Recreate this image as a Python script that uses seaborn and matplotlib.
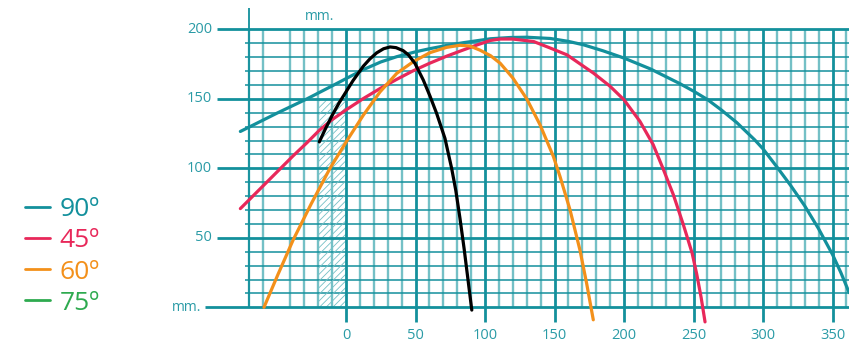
import matplotlib
matplotlib.use('Agg')
import numpy as np
import matplotlib.pyplot as plt
from matplotlib.lines import Line2D
from matplotlib.patches import Rectangle
import seaborn as sns

# ---------------- data ----------------
X_TICKS = [0, 50, 100, 150, 200, 250, 300, 350]
Y_TICKS = [50, 100, 150, 200]

teal_x = [-76, -70, -50, -28, -11.5, 0, 12.5, 25, 36.5, 50, 60, 72, 84, 104, 118, 130,
          147, 160, 171, 185, 200, 219, 240, 250, 260, 270, 281, 294, 300, 310, 320,
          330, 340, 350, 356, 362]
teal_y = [126.5, 129.5, 139.5, 150, 158.5, 164.5, 171, 176.5, 180.3, 183.8, 186, 188.3, 190.3,
          193.2, 194.1, 194.3, 193.4, 191.3, 188.8, 184.5, 179.3, 171.5, 161, 155.5, 149.5,
          142, 133, 120.5, 114, 101, 87.5, 73, 56.5, 38, 25, 10.5]

red_x = [-76, -66, -56, -47, -38, -28, -19, -10, 0, 12.5, 24.5, 36.5, 48, 60, 72, 84, 95,
         104, 111, 120, 135, 147, 159, 170, 178, 190, 200, 211.5, 221, 228, 235.5, 242.7,
         245, 249, 252.3, 255.5, 258.3]
red_y = [71, 81, 91, 100, 109, 118.5, 127.5, 135, 142, 150.2, 157.4, 164, 170, 175.5, 180.5,
         185, 189, 192, 193, 193, 191.2, 186.5, 181.6, 174, 168.5, 159, 149.3, 133.7, 117,
         100, 81, 59.4, 52, 39, 24, 7, -10.5]

orange_x = [-59, -49, -38, -25, -11.5, 1.7, 12.5, 24.5, 36.5, 48.4, 60.4, 72.4, 82, 89,
            96.4, 104, 111, 120, 130, 139.6, 149.2, 154, 161.2, 168.3, 173.1, 177.9]
orange_y = [0, 23.5, 48.5, 74.5, 100, 121.5, 138.3, 155, 168.3, 176.7, 183.2, 187, 188.5, 188,
            185, 181, 175.5, 165, 150, 131.3, 108.5, 94, 70, 41.2, 17.3, -9]

black_x = [-19.2, -15, -10, -5, 0, 5, 12.5, 17, 22, 27, 31.7, 36, 41.2, 45, 49.6, 55.6,
           60.4, 65.2, 71.2, 76, 79, 82, 85, 87.5, 90.5]
black_y = [119, 128, 138, 147, 155, 163, 173.5, 178.5, 183, 186, 187.3, 186.8, 184.6, 181.5,
           175.5, 163.5, 152, 139.5, 121.5, 100, 84, 64, 42, 22, -2]

LEGEND_LABELS = ['90º', '45º', '60º', '75º']

# ---------------- style ----------------
TEAL = '#13909c'
TEAL_LIGHT = '#74c0c6'
RED = '#e8285a'
ORANGE = '#f3901a'
GREEN = '#2eaa4f'
LABEL = '#2a9ba6'

sns.set_style('white')
plt.rcParams['font.family'] = ['Open Sans', 'DejaVu Sans']
plt.rcParams['hatch.linewidth'] = 0.6

# pixel calibration of the original sheet
W, H = 849, 342
X0, Y0, S = 346.0, 307.3, 1.39

fig = plt.figure(figsize=(W / 100, H / 100), dpi=100)
ax = fig.add_axes([0, 0, 1, 1])
ax.set_xlim(-X0 / S, (W - X0) / S)
ax.set_ylim((Y0 - H) / S, Y0 / S)
ax.axis('off')

x_right = (W - X0) / S

# ---------------- grid ----------------
minor_x = np.arange(-70, 361, 10)
minor_y = np.arange(10, 200, 10)
for v in minor_x:
    if v % 50 == 0:
        continue
    ax.vlines(v, 0, 200, color=TEAL_LIGHT, lw=1.7, zorder=1)
for v in minor_y:
    if v % 50 == 0:
        continue
    ax.hlines(v, -72.7, x_right, color=TEAL, lw=1.1, zorder=2)
for v in X_TICKS:
    ax.vlines(v, -10.7, 200, color=TEAL, lw=2.0, zorder=3)
for v in Y_TICKS:
    ax.hlines(v, -92.8, x_right, color=TEAL, lw=2.0, zorder=3)
ax.hlines(0, -101.4, x_right, color=TEAL, lw=2.0, zorder=3)
ax.vlines(-70, 0, 215, color=TEAL, lw=1.3, zorder=3)

# hatched strip
ax.add_patch(Rectangle((-20, 0), 20, 150, facecolor='none', edgecolor=TEAL_LIGHT,
                       hatch='/////', lw=0, zorder=2))

# ---------------- curves ----------------
for xs, ys, c in [(teal_x, teal_y, TEAL), (red_x, red_y, RED),
                  (orange_x, orange_y, ORANGE), (black_x, black_y, 'black')]:
    sns.lineplot(x=xs, y=ys, sort=False, estimator=None, color=c, lw=2.3, ax=ax,
                 zorder=5, solid_joinstyle='round')

# ---------------- labels ----------------
for v in Y_TICKS:
    ax.text(-96.4, v, str(v), ha='right', va='center', color=LABEL, fontsize=10.5)
ax.text(-104, 0, 'mm.', ha='right', va='center', color=LABEL, fontsize=10)
for v in X_TICKS:
    ax.text(v, -20.6, str(v), ha='center', va='center', color=LABEL, fontsize=10.5)
ax.text(-18.7, 209, 'mm.', ha='center', va='center', color=LABEL, fontsize=10)

# ---------------- legend ----------------
colors = [TEAL, RED, ORANGE, GREEN]
handles = [Line2D([0], [0], color=c, lw=2.0) for c in colors]
fig.legend(handles, LEGEND_LABELS, loc='center left',
           bbox_to_anchor=(25 / W, (H - 256.5) / H), frameon=False, fontsize=19,
           labelcolor=colors, handlelength=0.95, handletextpad=0.35,
           labelspacing=0.23, borderpad=0, borderaxespad=0)

plt.savefig('out.png', dpi=100)
plt.close()
